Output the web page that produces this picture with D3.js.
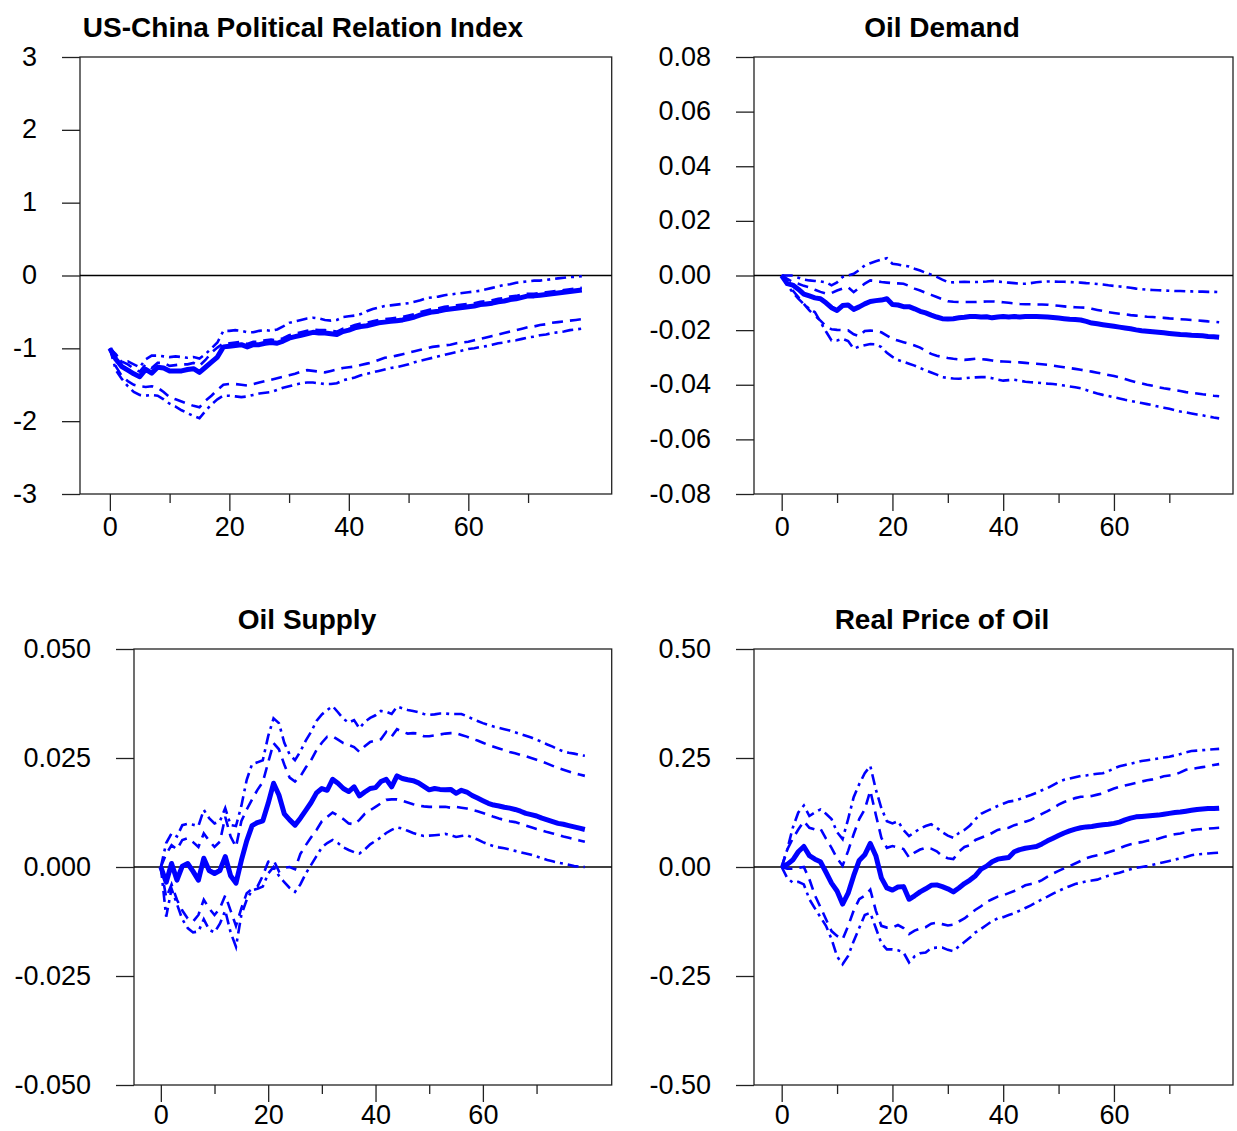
<!DOCTYPE html>
<html>
<head>
<meta charset="utf-8">
<script src="https://cdn.jsdelivr.net/npm/d3@7"></script>
<style>
  body { margin: 0; background: #fff; }
  svg { display: block; }
  .tick text { font-family: "Liberation Sans", Arial, sans-serif; font-size: 27px; fill: #000; }
  .title { font-family: "Liberation Sans", Arial, sans-serif; font-size: 28px; font-weight: bold; }
</style>
</head>
<body>
<svg id="chart" width="1237" height="1131"></svg>
<script>
// horizon 0..79
var periods = d3.range(80);

var titles = ["US-China Political Relation Index", "Oil Demand", "Oil Supply", "Real Price of Oil"];
var xMajorTicks = [0, 20, 40, 60];
var xMinorTicks = [10, 30, 50, 70];
var polTicks = [-3, -2, -1, 0, 1, 2, 3];
var demTicks = [-0.08, -0.06, -0.04, -0.02, 0, 0.02, 0.04, 0.06, 0.08];
var supTicks = [-0.05, -0.025, 0, 0.025, 0.05];
var priTicks = [-0.5, -0.25, 0, 0.25, 0.5];

// US-China Political Relation Index
var polMain = [-1.00,-1.15,-1.25,-1.30,-1.35,-1.39,-1.29,-1.34,-1.26,-1.27,-1.31,-1.31,-1.31,-1.29,-1.28,-1.33,-1.26,-1.19,-1.12,-0.98,
  -0.97,-0.96,-0.95,-0.98,-0.95,-0.95,-0.93,-0.92,-0.93,-0.90,-0.86,-0.84,-0.82,-0.80,-0.78,-0.79,-0.79,-0.80,-0.81,-0.77,
  -0.75,-0.72,-0.70,-0.69,-0.67,-0.65,-0.64,-0.63,-0.62,-0.61,-0.59,-0.57,-0.54,-0.52,-0.50,-0.49,-0.47,-0.46,-0.45,-0.44,
  -0.43,-0.42,-0.40,-0.39,-0.38,-0.36,-0.35,-0.33,-0.32,-0.30,-0.28,-0.28,-0.27,-0.26,-0.25,-0.24,-0.23,-0.22,-0.21,-0.20];
var polUpDash = [-1.00,-1.08,-1.18,-1.22,-1.28,-1.32,-1.22,-1.27,-1.20,-1.20,-1.24,-1.23,-1.22,-1.22,-1.20,-1.24,-1.16,-1.06,-0.99,-0.93,
  -0.93,-0.92,-0.91,-0.94,-0.91,-0.91,-0.89,-0.88,-0.89,-0.86,-0.82,-0.80,-0.78,-0.76,-0.74,-0.75,-0.75,-0.76,-0.77,-0.73,
  -0.71,-0.68,-0.66,-0.65,-0.63,-0.61,-0.60,-0.59,-0.58,-0.57,-0.55,-0.53,-0.50,-0.48,-0.46,-0.45,-0.43,-0.42,-0.41,-0.40,
  -0.39,-0.38,-0.36,-0.35,-0.34,-0.32,-0.31,-0.29,-0.28,-0.26,-0.25,-0.25,-0.24,-0.23,-0.22,-0.21,-0.20,-0.19,-0.18,-0.17];
var polUpDot = [-1.00,-1.10,-1.19,-1.18,-1.22,-1.26,-1.15,-1.10,-1.10,-1.11,-1.12,-1.11,-1.12,-1.13,-1.12,-1.14,-1.08,-1.00,-0.92,-0.76,
  -0.76,-0.75,-0.76,-0.78,-0.78,-0.76,-0.75,-0.76,-0.74,-0.70,-0.65,-0.63,-0.61,-0.59,-0.58,-0.59,-0.61,-0.62,-0.61,-0.57,
  -0.56,-0.55,-0.53,-0.49,-0.46,-0.44,-0.42,-0.41,-0.40,-0.39,-0.38,-0.36,-0.34,-0.31,-0.30,-0.29,-0.27,-0.26,-0.25,-0.24,
  -0.23,-0.22,-0.21,-0.19,-0.17,-0.15,-0.13,-0.12,-0.10,-0.09,-0.08,-0.07,-0.07,-0.06,-0.05,-0.04,-0.03,-0.02,-0.02,-0.01];
var polLoDash = [-1.00,-1.25,-1.38,-1.45,-1.50,-1.52,-1.53,-1.52,-1.54,-1.60,-1.67,-1.70,-1.73,-1.76,-1.79,-1.81,-1.72,-1.65,-1.57,-1.50,
  -1.49,-1.49,-1.50,-1.51,-1.49,-1.47,-1.45,-1.43,-1.41,-1.39,-1.37,-1.35,-1.32,-1.30,-1.31,-1.32,-1.33,-1.31,-1.29,-1.27,
  -1.26,-1.25,-1.23,-1.21,-1.19,-1.16,-1.13,-1.12,-1.10,-1.08,-1.06,-1.04,-1.02,-1.00,-0.98,-0.97,-0.96,-0.95,-0.93,-0.92,
  -0.91,-0.89,-0.87,-0.85,-0.83,-0.81,-0.79,-0.77,-0.75,-0.73,-0.71,-0.70,-0.68,-0.67,-0.65,-0.64,-0.63,-0.62,-0.61,-0.60];
var polLoDot = [-1.00,-1.30,-1.42,-1.52,-1.60,-1.64,-1.65,-1.64,-1.65,-1.70,-1.76,-1.80,-1.85,-1.89,-1.93,-1.96,-1.86,-1.77,-1.70,-1.65,
  -1.65,-1.66,-1.67,-1.66,-1.64,-1.62,-1.61,-1.60,-1.57,-1.54,-1.52,-1.50,-1.48,-1.47,-1.47,-1.48,-1.49,-1.49,-1.48,-1.44,
  -1.42,-1.40,-1.37,-1.35,-1.33,-1.31,-1.29,-1.27,-1.26,-1.24,-1.22,-1.19,-1.17,-1.15,-1.13,-1.11,-1.09,-1.07,-1.05,-1.03,
  -1.01,-1.00,-0.98,-0.97,-0.95,-0.93,-0.92,-0.90,-0.89,-0.87,-0.85,-0.84,-0.82,-0.81,-0.79,-0.78,-0.77,-0.75,-0.74,-0.73];

// Oil Demand
var demMain = [0.0000,-0.0030,-0.0035,-0.0050,-0.0068,-0.0075,-0.0082,-0.0085,-0.0100,-0.0118,-0.0128,-0.0110,-0.0108,-0.0124,-0.0115,-0.0104,-0.0095,-0.0092,-0.0090,-0.0085,
  -0.0106,-0.0108,-0.0114,-0.0114,-0.0122,-0.0131,-0.0137,-0.0145,-0.0152,-0.0158,-0.0159,-0.0158,-0.0155,-0.0153,-0.0150,-0.0150,-0.0152,-0.0151,-0.0155,-0.0152,
  -0.0150,-0.0152,-0.0150,-0.0152,-0.0150,-0.0150,-0.0150,-0.0151,-0.0152,-0.0154,-0.0156,-0.0158,-0.0160,-0.0161,-0.0163,-0.0168,-0.0174,-0.0177,-0.0180,-0.0183,
  -0.0186,-0.0189,-0.0192,-0.0195,-0.0199,-0.0202,-0.0204,-0.0206,-0.0208,-0.0210,-0.0212,-0.0214,-0.0216,-0.0217,-0.0219,-0.0220,-0.0221,-0.0223,-0.0224,-0.0226];
var demUpDash = [0.0000,-0.0012,-0.0024,-0.0030,-0.0038,-0.0043,-0.0052,-0.0060,-0.0066,-0.0064,-0.0055,-0.0048,-0.0043,-0.0061,-0.0045,-0.0030,-0.0018,-0.0020,-0.0024,-0.0026,
  -0.0028,-0.0029,-0.0030,-0.0038,-0.0048,-0.0055,-0.0063,-0.0071,-0.0079,-0.0087,-0.0094,-0.0096,-0.0097,-0.0097,-0.0097,-0.0097,-0.0096,-0.0095,-0.0095,-0.0096,
  -0.0098,-0.0100,-0.0102,-0.0104,-0.0105,-0.0105,-0.0106,-0.0106,-0.0107,-0.0109,-0.0111,-0.0113,-0.0115,-0.0116,-0.0117,-0.0118,-0.0122,-0.0126,-0.0130,-0.0134,
  -0.0137,-0.0140,-0.0142,-0.0145,-0.0147,-0.0149,-0.0151,-0.0152,-0.0154,-0.0155,-0.0157,-0.0158,-0.0160,-0.0161,-0.0163,-0.0164,-0.0166,-0.0168,-0.0169,-0.0171];
var demUpDot = [0.0000,0.0000,0.0000,-0.0008,-0.0015,-0.0018,-0.0020,-0.0022,-0.0025,-0.0036,-0.0025,-0.0005,0.0000,0.0006,0.0020,0.0037,0.0045,0.0052,0.0058,0.0063,
  0.0043,0.0040,0.0036,0.0033,0.0025,0.0018,0.0010,0.0003,-0.0005,-0.0015,-0.0024,-0.0025,-0.0024,-0.0023,-0.0024,-0.0024,-0.0023,-0.0022,-0.0020,-0.0022,
  -0.0024,-0.0026,-0.0028,-0.0030,-0.0030,-0.0028,-0.0025,-0.0023,-0.0022,-0.0022,-0.0023,-0.0023,-0.0024,-0.0025,-0.0026,-0.0028,-0.0029,-0.0031,-0.0033,-0.0036,
  -0.0038,-0.0040,-0.0042,-0.0045,-0.0048,-0.0050,-0.0052,-0.0053,-0.0054,-0.0055,-0.0056,-0.0057,-0.0057,-0.0058,-0.0058,-0.0059,-0.0059,-0.0060,-0.0060,-0.0061];
var demLoDash = [0.0000,-0.0030,-0.0055,-0.0079,-0.0104,-0.0128,-0.0147,-0.0165,-0.0186,-0.0197,-0.0199,-0.0200,-0.0201,-0.0215,-0.0222,-0.0203,-0.0202,-0.0203,-0.0208,-0.0220,
  -0.0232,-0.0238,-0.0244,-0.0250,-0.0256,-0.0264,-0.0275,-0.0287,-0.0294,-0.0298,-0.0302,-0.0305,-0.0307,-0.0309,-0.0307,-0.0305,-0.0306,-0.0308,-0.0311,-0.0314,
  -0.0315,-0.0316,-0.0317,-0.0318,-0.0320,-0.0322,-0.0323,-0.0325,-0.0327,-0.0330,-0.0333,-0.0336,-0.0339,-0.0342,-0.0345,-0.0349,-0.0352,-0.0356,-0.0360,-0.0364,
  -0.0368,-0.0373,-0.0379,-0.0385,-0.0391,-0.0395,-0.0400,-0.0404,-0.0409,-0.0413,-0.0416,-0.0420,-0.0423,-0.0427,-0.0429,-0.0432,-0.0435,-0.0437,-0.0440,-0.0442];
var demLoDot = [0.0000,-0.0035,-0.0062,-0.0085,-0.0105,-0.0122,-0.0134,-0.0170,-0.0205,-0.0238,-0.0238,-0.0232,-0.0240,-0.0268,-0.0260,-0.0255,-0.0251,-0.0252,-0.0262,-0.0283,
  -0.0298,-0.0309,-0.0316,-0.0323,-0.0330,-0.0339,-0.0347,-0.0355,-0.0363,-0.0372,-0.0375,-0.0377,-0.0378,-0.0376,-0.0374,-0.0373,-0.0372,-0.0372,-0.0376,-0.0381,
  -0.0385,-0.0383,-0.0382,-0.0385,-0.0389,-0.0391,-0.0392,-0.0394,-0.0396,-0.0397,-0.0400,-0.0403,-0.0406,-0.0409,-0.0413,-0.0419,-0.0426,-0.0432,-0.0437,-0.0441,
  -0.0446,-0.0450,-0.0455,-0.0459,-0.0463,-0.0467,-0.0471,-0.0475,-0.0480,-0.0484,-0.0488,-0.0493,-0.0498,-0.0501,-0.0505,-0.0509,-0.0512,-0.0516,-0.0520,-0.0523];

// Oil Supply
var supMain = [0.0000,-0.0035,0.0008,-0.0030,0.0002,0.0008,-0.0010,-0.0030,0.0020,-0.0008,-0.0015,-0.0008,0.0024,-0.0020,-0.0037,0.0015,0.0060,0.0095,0.0102,0.0106,
  0.0146,0.0192,0.0165,0.0122,0.0108,0.0096,0.0112,0.0130,0.0148,0.0170,0.0180,0.0176,0.0201,0.0192,0.0180,0.0173,0.0184,0.0163,0.0172,0.0180,
  0.0182,0.0196,0.0201,0.0184,0.0209,0.0203,0.0200,0.0198,0.0193,0.0185,0.0177,0.0180,0.0178,0.0177,0.0178,0.0169,0.0176,0.0172,0.0164,0.0158,
  0.0152,0.0146,0.0142,0.0140,0.0137,0.0135,0.0132,0.0128,0.0123,0.0120,0.0117,0.0112,0.0108,0.0104,0.0100,0.0098,0.0095,0.0092,0.0089,0.0086];
var supUpDash = [0.0000,0.0030,0.0050,0.0040,0.0062,0.0066,0.0057,0.0046,0.0077,0.0060,0.0046,0.0058,0.0115,0.0070,0.0046,0.0105,0.0132,0.0155,0.0177,0.0195,
  0.0240,0.0284,0.0270,0.0235,0.0205,0.0196,0.0208,0.0228,0.0245,0.0268,0.0285,0.0299,0.0300,0.0292,0.0284,0.0280,0.0275,0.0264,0.0277,0.0287,
  0.0290,0.0293,0.0310,0.0299,0.0316,0.0310,0.0306,0.0307,0.0306,0.0300,0.0300,0.0302,0.0304,0.0306,0.0307,0.0307,0.0303,0.0299,0.0294,0.0290,
  0.0285,0.0280,0.0276,0.0272,0.0268,0.0264,0.0261,0.0257,0.0254,0.0250,0.0246,0.0242,0.0237,0.0232,0.0227,0.0223,0.0219,0.0215,0.0212,0.0209];
var supUpDot = [0.0000,0.0055,0.0077,0.0070,0.0096,0.0099,0.0097,0.0094,0.0131,0.0112,0.0100,0.0105,0.0135,0.0096,0.0094,0.0140,0.0200,0.0236,0.0240,0.0245,
  0.0300,0.0341,0.0330,0.0285,0.0258,0.0245,0.0265,0.0290,0.0310,0.0335,0.0350,0.0360,0.0369,0.0355,0.0340,0.0331,0.0337,0.0318,0.0333,0.0342,
  0.0348,0.0358,0.0356,0.0351,0.0368,0.0364,0.0360,0.0358,0.0355,0.0351,0.0349,0.0350,0.0352,0.0352,0.0351,0.0351,0.0351,0.0346,0.0340,0.0335,
  0.0330,0.0326,0.0322,0.0319,0.0316,0.0313,0.0309,0.0305,0.0301,0.0297,0.0292,0.0287,0.0281,0.0276,0.0270,0.0265,0.0262,0.0260,0.0257,0.0255];
var supLoDash = [0.0000,-0.0070,-0.0040,-0.0075,-0.0100,-0.0118,-0.0125,-0.0110,-0.0075,-0.0095,-0.0110,-0.0095,-0.0065,-0.0100,-0.0135,-0.0095,-0.0060,-0.0050,-0.0045,-0.0020,
  0.0012,0.0016,-0.0010,-0.0002,0.0000,-0.0005,0.0030,0.0050,0.0068,0.0085,0.0105,0.0115,0.0125,0.0118,0.0110,0.0100,0.0098,0.0108,0.0122,0.0130,
  0.0138,0.0146,0.0154,0.0155,0.0155,0.0152,0.0148,0.0144,0.0141,0.0139,0.0138,0.0138,0.0138,0.0138,0.0136,0.0138,0.0136,0.0134,0.0131,0.0128,
  0.0124,0.0120,0.0115,0.0111,0.0108,0.0105,0.0103,0.0099,0.0095,0.0091,0.0087,0.0084,0.0080,0.0077,0.0074,0.0070,0.0067,0.0064,0.0061,0.0058];
var supLoDot = [0.0000,-0.0114,-0.0050,-0.0085,-0.0120,-0.0140,-0.0150,-0.0148,-0.0120,-0.0144,-0.0150,-0.0130,-0.0100,-0.0150,-0.0183,-0.0110,-0.0075,-0.0053,-0.0050,-0.0045,
  -0.0015,0.0000,-0.0020,-0.0035,-0.0048,-0.0057,-0.0040,-0.0015,0.0005,0.0025,0.0045,0.0055,0.0062,0.0055,0.0045,0.0039,0.0034,0.0031,0.0040,0.0052,
  0.0060,0.0068,0.0078,0.0085,0.0091,0.0088,0.0083,0.0078,0.0074,0.0071,0.0072,0.0073,0.0074,0.0076,0.0073,0.0069,0.0071,0.0073,0.0068,0.0063,
  0.0057,0.0052,0.0048,0.0045,0.0043,0.0040,0.0037,0.0034,0.0031,0.0028,0.0024,0.0020,0.0016,0.0013,0.0010,0.0008,0.0005,0.0002,0.0001,0.0000];

// Real Price of Oil
var priMain = [0.000,0.006,0.016,0.035,0.047,0.026,0.018,0.012,-0.012,-0.037,-0.055,-0.085,-0.060,-0.020,0.015,0.028,0.054,0.026,-0.025,-0.048,
  -0.053,-0.046,-0.045,-0.074,-0.066,-0.057,-0.050,-0.042,-0.041,-0.045,-0.050,-0.057,-0.048,-0.038,-0.030,-0.020,-0.005,0.002,0.012,0.018,
  0.020,0.022,0.035,0.040,0.043,0.045,0.047,0.053,0.060,0.066,0.072,0.078,0.083,0.087,0.090,0.092,0.093,0.095,0.097,0.098,
  0.100,0.103,0.108,0.112,0.115,0.116,0.117,0.118,0.119,0.121,0.123,0.125,0.126,0.128,0.130,0.132,0.133,0.134,0.134,0.135];
var priUpDash = [0.000,0.040,0.065,0.086,0.105,0.090,0.086,0.088,0.065,0.044,0.020,0.003,0.037,0.075,0.110,0.132,0.175,0.120,0.067,0.044,
  0.048,0.045,0.041,0.022,0.033,0.040,0.044,0.042,0.036,0.025,0.020,0.018,0.035,0.046,0.050,0.062,0.067,0.072,0.078,0.085,
  0.088,0.090,0.096,0.099,0.104,0.108,0.115,0.122,0.128,0.135,0.143,0.149,0.153,0.158,0.161,0.161,0.163,0.166,0.169,0.175,
  0.180,0.184,0.187,0.190,0.193,0.196,0.199,0.201,0.204,0.208,0.210,0.212,0.217,0.223,0.225,0.227,0.229,0.231,0.234,0.236];
var priUpDot = [0.000,0.040,0.090,0.125,0.141,0.117,0.125,0.132,0.122,0.110,0.080,0.064,0.110,0.160,0.190,0.215,0.232,0.178,0.135,0.105,
  0.100,0.105,0.085,0.071,0.080,0.088,0.094,0.098,0.090,0.080,0.072,0.067,0.078,0.085,0.095,0.110,0.122,0.128,0.134,0.140,
  0.145,0.150,0.152,0.156,0.161,0.165,0.170,0.176,0.181,0.188,0.195,0.200,0.203,0.206,0.209,0.210,0.212,0.214,0.215,0.220,
  0.226,0.231,0.234,0.237,0.240,0.243,0.245,0.247,0.249,0.251,0.253,0.256,0.259,0.263,0.266,0.267,0.268,0.269,0.270,0.271];
var priLoDash = [0.000,-0.004,-0.004,-0.002,0.000,-0.028,-0.065,-0.092,-0.120,-0.147,-0.158,-0.166,-0.135,-0.100,-0.074,-0.066,-0.052,-0.100,-0.135,-0.139,
  -0.139,-0.133,-0.140,-0.154,-0.146,-0.141,-0.138,-0.130,-0.128,-0.131,-0.134,-0.132,-0.125,-0.118,-0.108,-0.098,-0.090,-0.080,-0.074,-0.068,
  -0.065,-0.060,-0.055,-0.049,-0.042,-0.039,-0.036,-0.030,-0.022,-0.015,-0.009,-0.003,0.002,0.008,0.014,0.020,0.024,0.027,0.030,0.034,
  0.038,0.043,0.048,0.052,0.055,0.057,0.060,0.062,0.065,0.069,0.072,0.075,0.077,0.080,0.084,0.086,0.087,0.088,0.089,0.090];
var priLoDot = [0.000,-0.025,-0.036,-0.034,-0.040,-0.074,-0.095,-0.115,-0.135,-0.165,-0.205,-0.223,-0.204,-0.170,-0.140,-0.110,-0.105,-0.140,-0.175,-0.189,
  -0.189,-0.191,-0.196,-0.219,-0.205,-0.198,-0.196,-0.186,-0.185,-0.185,-0.190,-0.193,-0.182,-0.172,-0.162,-0.150,-0.142,-0.133,-0.124,-0.118,
  -0.115,-0.110,-0.106,-0.100,-0.094,-0.088,-0.081,-0.074,-0.068,-0.061,-0.055,-0.049,-0.044,-0.039,-0.036,-0.033,-0.031,-0.029,-0.024,-0.020,
  -0.016,-0.013,-0.009,-0.005,-0.002,0.000,0.002,0.005,0.008,0.011,0.014,0.017,0.020,0.023,0.027,0.029,0.030,0.031,0.032,0.033];

var svg = d3.select("#chart");

// panel layout (pixel boxes) and series per panel
var panels = [
    {title: titles[0], tx: 303, ty: 37, box: [80, 611.7, 57, 494], xdom: [-5, 84], ydom: [-3, 3], yticks: polTicks, dec: 0, xpad: 6,
     main: polMain, dash: [polUpDash, polLoDash], dot: [polUpDot, polLoDot]},
    {title: titles[1], tx: 942, ty: 37, box: [754, 1233, 57, 494], xdom: [-5, 81.5], ydom: [-0.08, 0.08], yticks: demTicks, dec: 2, xpad: 6,
     main: demMain, dash: [demUpDash, demLoDash], dot: [demUpDot, demLoDot]},
    {title: titles[2], tx: 307, ty: 629, box: [134, 611.7, 649, 1085], xdom: [-5, 84], ydom: [-0.05, 0.05], yticks: supTicks, dec: 3, xpad: 3,
     main: supMain, dash: [supUpDash, supLoDash], dot: [supUpDot, supLoDot]},
    {title: titles[3], tx: 942, ty: 629, box: [754, 1233, 649, 1085], xdom: [-5, 81.5], ydom: [-0.5, 0.5], yticks: priTicks, dec: 2, xpad: 3,
     main: priMain, dash: [priUpDash, priLoDash], dot: [priUpDot, priLoDot]}
];

panels.forEach(drawPanel);

function drawPanel(p) {
    var left = p.box[0], right = p.box[1], top = p.box[2], bottom = p.box[3];
    var x = d3.scaleLinear().domain(p.xdom).range([left, right]);
    var y = d3.scaleLinear().domain(p.ydom).range([bottom, top]);
    var g = svg.append("g");

    //Title
    g.append("text").attr("class", "title")
        .attr("x", p.tx).attr("y", p.ty)
        .attr("text-anchor", "middle")
        .text(p.title);

    //Y Axis
    var yAxis = g.append("g")
        .attr("transform", "translate(" + left + ",0)")
        .call(d3.axisLeft(y).tickValues(p.yticks).tickSize(18).tickPadding(25)
            .tickFormat(function(d) { return d.toFixed(p.dec); }));
    yAxis.select(".domain").remove();
    yAxis.selectAll("line").attr("stroke", "#222").attr("stroke-width", 1.3);
    yAxis.selectAll("text").attr("dy", "0.3em");

    //X Axis, major + minor ticks
    var xAxis = g.append("g")
        .attr("transform", "translate(0," + bottom + ")")
        .call(d3.axisBottom(x).tickValues(xMajorTicks).tickSize(17).tickPadding(p.xpad)
            .tickFormat(function(d) { return d.toFixed(0); }));
    xAxis.select(".domain").remove();
    xAxis.selectAll("line").attr("stroke", "#222").attr("stroke-width", 1.3);

    var xMinor = g.append("g")
        .attr("transform", "translate(0," + bottom + ")")
        .call(d3.axisBottom(x).tickValues(xMinorTicks).tickSize(9).tickFormat(""));
    xMinor.select(".domain").remove();
    xMinor.selectAll("line").attr("stroke", "#222").attr("stroke-width", 1.3);

    //Box
    g.append("rect")
        .attr("x", left).attr("y", top)
        .attr("width", right - left).attr("height", bottom - top)
        .attr("fill", "none").attr("stroke", "#222").attr("stroke-width", 1.3);

    //Zero line
    g.append("line")
        .attr("x1", left).attr("x2", right)
        .attr("y1", y(0)).attr("y2", y(0))
        .attr("stroke", "#000").attr("stroke-width", 1.4);

    var line = d3.line()
        .x(function(d, i) { return x(periods[i]); })
        .y(function(d) { return y(d); });

    p.dot.forEach(function(s) {
        g.append("path").datum(s)
            .attr("fill", "none").attr("stroke", "#0000ff")
            .attr("stroke-width", 2.6)
            .attr("stroke-dasharray", "11,5,3,5")
            .attr("d", line);
    });
    p.dash.forEach(function(s) {
        g.append("path").datum(s)
            .attr("fill", "none").attr("stroke", "#0000ff")
            .attr("stroke-width", 2.6)
            .attr("stroke-dasharray", "11,7")
            .attr("d", line);
    });
    g.append("path").datum(p.main)
        .attr("fill", "none").attr("stroke", "#0000ff")
        .attr("stroke-width", 5)
        .attr("stroke-linejoin", "round")
        .attr("d", line);
}
</script>
</body>
</html>
